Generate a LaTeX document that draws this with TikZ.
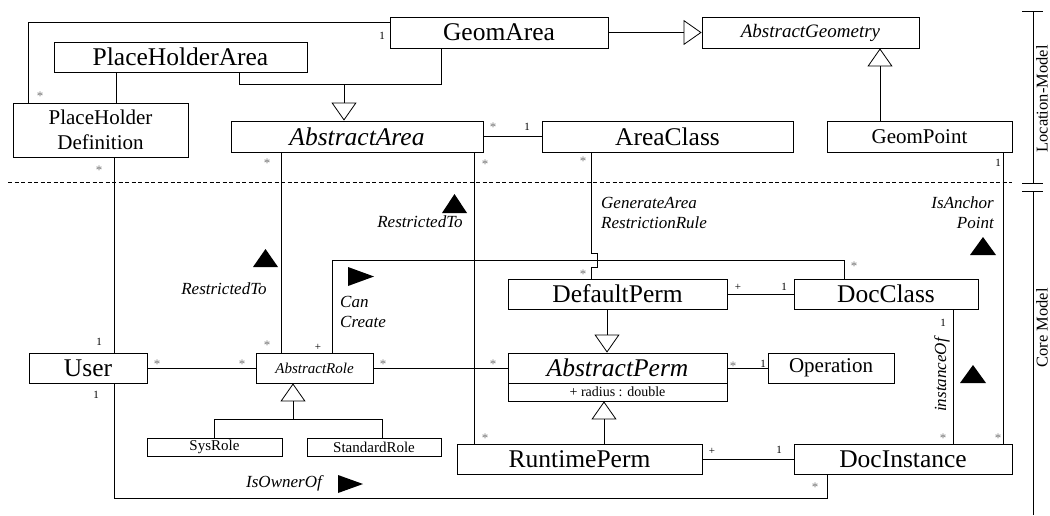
\documentclass[tikz,border=0pt]{standalone}
\usepackage{fontspec}
\setmainfont{Liberation Serif}
\usetikzlibrary{arrows.meta,calc}
\begin{document}
\begin{tikzpicture}[x=1pt,y=-1pt,
  box/.style={draw,line width=0.8pt,inner sep=0pt,anchor=center},
  ln/.style={line width=0.8pt},
  gen/.style={line width=0.8pt,-{Triangle[open,length=18pt,width=25pt,line width=0.8pt]}},
  mult/.style={font=\fontsize{11}{12}\selectfont,inner sep=0pt},
  star/.style={font=\fontsize{13}{14}\selectfont,inner sep=0pt,text=black!55},
  lbl/.style={font=\fontsize{17}{20}\selectfont\itshape,inner sep=0pt},
  big/.style={font=\fontsize{25.5}{28}\selectfont},
  mid/.style={font=\fontsize{21}{25}\selectfont},
  sm/.style={font=\fontsize{15}{17}\selectfont},
  side/.style={font=\fontsize{16.5}{18}\selectfont,inner sep=0pt,rotate=90},
  dirtri/.style={fill=black,draw=none}
]
\useasboundingbox (0,0) rectangle (1050,515);

% classes
\node[box,big,minimum width=218pt,minimum height=31pt] (ga) at (499,32.5) {GeomArea};
\node[box,font=\fontsize{19}{22}\selectfont\itshape,minimum width=217pt,minimum height=31pt] (ageo) at (810.5,32.5) {AbstractGeometry};
\node[box,big,minimum width=253pt,minimum height=30pt] (pha) at (180.5,57) {PlaceHolderArea};
\node[box,mid,align=center,minimum width=175pt,minimum height=54pt] (phd) at (100.5,130) {PlaceHolder\\Definition};
\node[box,font=\fontsize{25.5}{28}\selectfont\itshape,minimum width=252pt,minimum height=31pt] (aa) at (357,136.5) {AbstractArea};
\node[box,big,minimum width=251pt,minimum height=31pt] (ac) at (667.5,136.5) {AreaClass};
\node[box,mid,minimum width=185pt,minimum height=31pt] (gp) at (919.5,136.5) {GeomPoint};
\node[box,big,minimum width=219pt,minimum height=30pt] (dp) at (617.5,294) {DefaultPerm};
\node[box,big,minimum width=184pt,minimum height=30pt] (dc) at (886,294) {DocClass};
\node[box,big,minimum width=118pt,minimum height=30pt] (user) at (88,368) {User};
\node[box,font=\fontsize{15}{17}\selectfont\itshape,minimum width=117pt,minimum height=30pt] (ar) at (314.5,368) {AbstractRole};
\node[box,font=\fontsize{25.5}{28}\selectfont\itshape,minimum width=219pt,minimum height=30pt] (ap) at (617.5,368) {AbstractPerm};
\node[box,font=\fontsize{14}{16}\selectfont,minimum width=219pt,minimum height=18pt] (apattr) at (617.5,392) {+ radius : double};
\node[box,mid,minimum width=126pt,minimum height=30pt] (op) at (831,368) {Operation};
\node[box,sm,minimum width=135pt,minimum height=18pt] (sys) at (214.5,447) {SysRole};
\node[box,sm,minimum width=134pt,minimum height=18pt] (std) at (374,447) {StandardRole};
\node[box,big,minimum width=245pt,minimum height=30pt] (rp) at (579.5,459) {RuntimePerm};
\node[box,big,minimum width=218pt,minimum height=30pt] (di) at (903,459) {DocInstance};

% connectors
\draw[ln] ($(phd.north west)+(16,0)$) |- ($(ga.north west)+(0,6)$);
\draw[ln] (pha.south -| 116,0) -- (phd.north -| 116,0);
\draw[ln] (pha.south -| 239,0) |- (441,84) -- (ga.south -| 441,0);
\draw[gen] (344,84) -- (aa.north -| 344,0);
\draw[gen] (ga.east) -- (ageo.west);
\draw[gen] (gp.north -| 880,0) -- (ageo.south -| 880,0);
\draw[ln] (aa.east) -- (ac.west);
\draw[ln] (phd.south -| 114,0) -- (user.north -| 114,0);
\draw[ln] (aa.south -| 281,0) -- (ar.north -| 281,0);
\draw[ln] (aa.south -| 474,0) -- (rp.north -| 474,0);
\draw[ln] (ac.south -| 591,0) -- (591,253) -- (597,253) -- (597,267) -- (591,267) -- (dp.north -| 591,0);
\draw[ln] (ar.north -| 332,0) |- (844,260) -- (dc.north -| 844,0);
\draw[gen] (dp.south -| 607,0) -- (ap.north -| 607,0);
\draw[ln] (dp.east) -- (dc.west);
\draw[ln] (user.east) -- (ar.west);
\draw[ln] (ar.east) -- (ap.west);
\draw[ln] (ap.east) -- (op.west);
\draw[ln] (sys.north) |- (382,419) -- (std.north -| 382,0);
\draw[gen] (293,419) -- (ar.south -| 293,0);
\draw[gen] (rp.north -| 604,0) -- (apattr.south -| 604,0);
\draw[ln] (rp.east) -- (di.west);
\draw[ln] (dc.south -| 953,0) -- (di.north -| 953,0);
\draw[ln] (gp.south -| 1003,0) -- (di.north -| 1003,0);
\draw[ln] (user.south -| 114,0) |- (827,498) -- (di.south -| 827,0);

% dashed separator
\draw[line width=1pt,dash pattern=on 4pt off 2.5pt] (8,182) -- (1012,182);

% side bar
\draw[ln] (1022,11) -- (1043,11) (1033,11) -- (1033,183) (1022,183) -- (1043,183);
\draw[ln] (1022,191) -- (1043,191) (1033,191) -- (1033,515);
\node[side] (locm) at (1042,99) {Location-Model};
\node[side] (corem) at (1042,328) {Core Model};

% multiplicities
\foreach \p in {(40,96.5),(99,170.5),(267,163.5),(493,127.5),(485,164.5),(583,161.5),(583,274.5),(854,266.5),(157,364.5),(242,364.5),(383,364.5),(493,364.5),(733,366.5),(485,438.5),(943,438.5),(998,438.5),(815,487.5),(267,345.5)}
  \node[star] at \p {*};
\foreach \p in {(382,36),(527,127),(998,163),(99,342),(96,395),(784,287),(943,323),(763,364),(779,450)}
  \node[mult] at \p {1};
\foreach \p in {(318,347),(738,287),(712,451)}
  \node[mult] at \p {+};

% association labels
\node[lbl] (rt1) at (224,289) {RestrictedTo};
\node[lbl] (rt2) at (420,222) {RestrictedTo};
\node[lbl,align=left,anchor=west] (gar) at (601,212.5) {GenerateArea\\RestrictionRule};
\node[lbl,align=right,anchor=east] (iap) at (994,213) {IsAnchor\\Point};
\node[lbl,align=left,anchor=west] (cc) at (340,311.5) {Can\\Create};
\node[lbl] (iso) at (284,483) {IsOwnerOf};
\node[lbl,rotate=90] (ino) at (942,375) {instanceOf};

% direction triangles
\fill[dirtri] (253,267) -- (278,267) -- (265.5,249) -- cycle;
\fill[dirtri] (442,213) -- (467,213) -- (454.5,194) -- cycle;
\fill[dirtri] (970,255) -- (996,255) -- (983,237) -- cycle;
\fill[dirtri] (960,383) -- (986,383) -- (973,365) -- cycle;
\fill[dirtri] (348,267) -- (348,286) -- (374,276.5) -- cycle;
\fill[dirtri] (338,475) -- (338,493) -- (363,484) -- cycle;
\end{tikzpicture}
\end{document}
